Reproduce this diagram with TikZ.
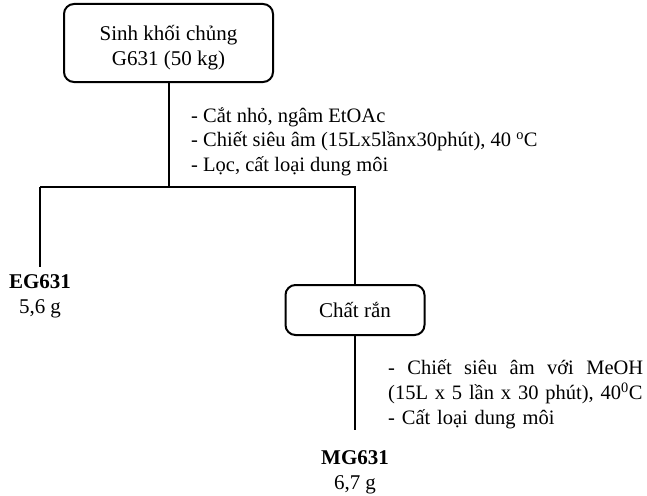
\documentclass[tikz,border=0pt]{standalone}
\usepackage{fontspec}
\setmainfont{Liberation Serif}
\begin{document}
\begin{tikzpicture}[x=1pt,y=-1pt,
  every node/.style={font=\fontsize{21}{25}\selectfont, inner sep=0pt},
  stepbox/.style={draw, line width=2pt, rounded corners=10pt, align=center},
  link/.style={line width=2pt},
  note/.style={align=left, anchor=north west},
  product/.style={align=center, anchor=north}]
  \useasboundingbox (0,0) rectangle (647,495);

  % starting biomass
  \node[stepbox, minimum width=209pt, minimum height=78pt] (bio) at (168.5,43)
    {\rule{0pt}{25pt}Sinh khối chủng\\G631 (50 kg)};
  \coordinate (split) at (168.5,187);
  \coordinate (splitL) at (40,187);
  \coordinate (splitR) at (355,187);

  % first extraction
  \node[note, font=\fontsize{20.5}{24.5}\selectfont] (ex1) at (191,107)
    {- Cắt nhỏ, ngâm EtOAc\\
     - Chiết siêu âm (15Lx5lầnx30phút), 40 \textsuperscript{o}C\\
     - Lọc, cất loại dung môi};

  \node[product] (eg) at (40,274) {\textbf{EG631}\\5,6 g};
  \node[stepbox, minimum width=139pt, minimum height=50pt] (solid) at (355,310) {Chất rắn};

  % second extraction
  \node[note, text width=255pt, font=\fontsize{20.5}{25}\selectfont] (ex2) at (388,359.5)
    {-\hfill Chiết\hfill siêu\hfill âm\hfill với\hfill MeOH\\
     \mbox{(15L x 5 lần x 30 phút), 40\textsuperscript{0}C}\\
     - Cất loại dung môi};
  \coordinate (mgtop) at (355,430);
  \node[product] (mg) at (355,450) {\textbf{MG631}\\6,7 g};

  \draw[link] (bio.south) -- (split);
  \draw[link] (splitL) -- (splitR) -- (solid.north);
  \draw[link] (splitL) -- ([yshift=7pt]eg.north);
  \draw[link] (solid.south) -- (mgtop);
\end{tikzpicture}
\end{document}
